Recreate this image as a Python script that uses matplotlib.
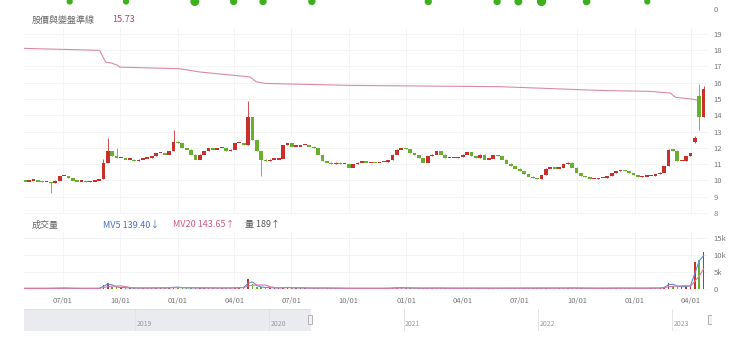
import numpy as np
import pandas as pd
import matplotlib
matplotlib.use('Agg')
import matplotlib.pyplot as plt
import matplotlib.dates as mdates
from matplotlib.patches import Rectangle

plt.rcParams['font.family'] = ['Noto Sans CJK TC', 'DejaVu Sans']

# weekly closes (from 2020-05-01)
closes = [
    9.95, 10.0, 10.0, 9.95, 9.9, 9.9, 9.85, 10.0, 10.3, 10.3,
    10.15, 10.0, 9.95, 9.95, 9.9, 9.95, 10.0, 10.05, 11.1, 11.8,
    11.5, 11.4, 11.4, 11.3, 11.3, 11.2, 11.3, 11.35, 11.4, 11.5,
    11.7, 11.7, 11.6, 11.8, 12.4, 12.3, 12.0, 11.9, 11.6, 11.3,
    11.6, 11.8, 12.0, 11.9, 12.0, 12.0, 11.8, 11.9, 12.3, 12.3,
    12.2, 13.9, 12.5, 11.8, 11.3, 11.2, 11.3, 11.3, 11.35, 12.2,
    12.3, 12.1, 12.1, 12.2, 12.2, 12.1, 12.0, 11.6, 11.2, 11.1,
    11.0, 11.1, 11.0, 11.0, 10.8, 11.0, 11.1, 11.2, 11.1, 11.15,
    11.1, 11.15, 11.15, 11.25, 11.6, 11.9, 12.0, 11.95, 11.7, 11.55,
    11.4, 11.1, 11.5, 11.6, 11.8, 11.6, 11.4, 11.4, 11.4, 11.45,
    11.6, 11.75, 11.5, 11.4, 11.6, 11.3, 11.35, 11.55, 11.5, 11.3,
    11.05, 10.9, 10.75, 10.6, 10.4, 10.25, 10.15, 10.1, 10.35, 10.75,
    10.8, 10.75, 10.8, 11.0, 11.1, 10.8, 10.45, 10.3, 10.2, 10.1,
    10.1, 10.15, 10.15, 10.3, 10.45, 10.6, 10.65, 10.6, 10.45, 10.35,
    10.2, 10.25, 10.3, 10.3, 10.4, 10.5, 10.9, 11.9, 11.85, 11.2,
    11.2, 11.5, 11.7, 12.6, 13.9, 15.6,
]
open_fix = {0: 10.0, 18: 10.1, 153: 12.4, 154: 15.2, 155: 13.9}
high_fix = {18: 11.3, 19: 12.6, 21: 12.0, 34: 13.1, 51: 14.9, 153: 12.7, 154: 15.9, 155: 15.8}
low_fix = {6: 9.2, 54: 10.3, 153: 12.3, 154: 13.1}

volume = [
    180, 200, 160, 210, 190, 170, 250, 220, 300, 260, 200, 180, 170, 190, 160, 180, 200, 220,
    1300, 1700,
    700, 500, 400, 350, 300, 280, 260, 300, 320, 280,
    300, 350, 300, 400, 600, 450, 350, 300, 350, 300,
    320, 300, 350, 300, 280, 300, 280, 320, 400, 450,
    500, 2800, 1400, 700, 500, 400, 350, 300, 300, 500,
    450, 350, 300, 300, 280, 260, 250, 300, 280, 250,
    230, 220, 200, 210, 230, 200, 220, 210, 200, 200,
    190, 200, 210, 230, 350, 400, 380, 300, 260, 240,
    230, 250, 280, 260, 300, 260, 240, 230, 220, 230,
    250, 270, 240, 230, 250, 240, 230, 240, 220, 230,
    240, 230, 250, 260, 270, 260, 250, 240, 280, 300,
    280, 260, 270, 300, 320, 280, 260, 240, 230, 220,
    210, 220, 230, 250, 260, 270, 260, 250, 240, 230,
    230, 240, 250, 260, 280, 320, 600, 1900, 900, 700,
    650, 800, 1200, 8000, 8600, 11000,
]

# 變盤準線
ref_dates = ['2020-04-30', '2020-08-29', '2020-09-04', '2020-09-08', '2020-09-17', '2020-09-27',
             '2020-09-30', '2021-01-04', '2021-02-05', '2021-03-30', '2021-04-26', '2021-05-06',
             '2021-05-20', '2021-10-03', '2022-05-31', '2022-11-07', '2023-01-26', '2023-02-27',
             '2023-03-07', '2023-03-31', '2023-04-16']
ref_values = [18.1, 17.98, 17.5, 17.25, 17.2, 17.05, 16.95, 16.85, 16.65, 16.45, 16.35, 16.05,
              15.95, 15.83, 15.75, 15.52, 15.46, 15.36, 15.1, 15.0, 14.9]

# top indicator strip dots
dot_dates = ['2020-07-12', '2020-10-10', '2021-01-28', '2021-03-31', '2021-05-17', '2021-08-03',
             '2022-02-05', '2022-05-26', '2022-06-29', '2022-08-05', '2022-10-16', '2023-01-21']
dot_sizes = [12, 12, 30, 18, 18, 18, 18, 18, 22, 32, 20, 12]

price_ticks = list(range(8, 20))
vol_ticks = [0, 5000, 10000, 15000]
vol_labels = ['0', '5k', '10k', '15k']
years = [2019, 2020, 2021, 2022, 2023]

W, H = 740, 348
UP, DOWN = '#c8302c', '#66b02e'
GRID = '#f2f2f2'
LBL = '#777777'


def rect(l, t, r, b):
    return [l / W, 1 - b / H, (r - l) / W, (b - t) / H]


dates = pd.date_range('2020-05-01', periods=len(closes), freq='7D')
closes = np.array(closes)
opens = np.concatenate([[closes[0]], closes[:-1]])
for k, v in open_fix.items():
    opens[k] = v
highs = np.maximum(opens, closes)
lows = np.minimum(opens, closes)
for k, v in high_fix.items():
    highs[k] = v
for k, v in low_fix.items():
    lows[k] = v
colors = [UP if c >= o else DOWN for o, c in zip(opens, closes)]

xmin, xmax = pd.Timestamp('2020-04-30'), pd.Timestamp('2023-04-28')

fig = plt.figure(figsize=(7.4, 3.48), dpi=100)

# top strip
ax_top = fig.add_axes(rect(24, -1, 708, 9))
ax_top.scatter(pd.to_datetime(dot_dates), [0.75] * len(dot_dates), s=dot_sizes,
               color='#3cb01c', zorder=3, clip_on=False)
ax_top.set_xlim(xmin, xmax)
ax_top.set_ylim(0, 1)
ax_top.axhline(0, color=GRID, lw=0.6)

# price panel
ax = fig.add_axes(rect(24, 28, 708, 214))
body = np.maximum(np.abs(closes - opens), 0.08)
ax.vlines(dates, lows, highs, colors=colors, lw=0.6, zorder=2)
ax.bar(dates, body, bottom=np.minimum(opens, closes) - 0.02, width=6, color=colors, zorder=3)
ax.plot(pd.to_datetime(ref_dates), ref_values, color='#d98ba2', lw=0.8, zorder=2)
ax.set_ylim(7.94, 19.35)
ax.set_yticks(price_ticks)

# volume panel
ax_v = fig.add_axes(rect(24, 232, 708, 290))
vs = pd.Series(volume, dtype=float)
ax_v.bar(dates, volume, width=2.5, color=colors, zorder=2)
ax_v.plot(dates, vs.rolling(2, min_periods=1).mean(), color='#5b8fd9', lw=0.8, zorder=3)
ax_v.plot(dates, vs.rolling(5, min_periods=1).mean(), color='#e07a9a', lw=0.8, zorder=3)
ax_v.set_ylim(-294, 16760)
ax_v.set_yticks(vol_ticks)
ax_v.set_yticklabels(vol_labels)

qticks = pd.date_range('2020-07-01', '2023-04-01', freq='QS')
for a in (ax_top, ax, ax_v):
    a.set_xlim(xmin, xmax)
    for s in a.spines.values():
        s.set_visible(False)
    a.yaxis.tick_right()
    a.tick_params(axis='y', length=0, labelsize=5.5, labelcolor=LBL, pad=4)
    a.set_xticks(qticks)
    a.tick_params(axis='x', length=0, labelbottom=False)
    a.grid(True, color=GRID, lw=0.6)
    a.set_axisbelow(True)
ax_top.set_yticks([0])
ax_top.grid(False)
ax_top.set_xticks([])
ax_v.tick_params(axis='x', labelbottom=True, labelsize=5.5, labelcolor=LBL, pad=5)
ax_v.xaxis.set_major_formatter(mdates.DateFormatter('%m/%d'))

# headers
fig.text(32 / W, 1 - 20 / H, '股價與變盤準線', fontsize=6.5, color='#666666', va='center')
fig.text(112 / W, 1 - 20 / H, '15.73', fontsize=6.5, color='#b5436e', va='center')
fig.text(32 / W, 1 - 225 / H, '成交量', fontsize=6.5, color='#666666', va='center')
fig.text(103 / W, 1 - 225 / H, 'MV5 139.40↓', fontsize=6.5, color='#4472c4', va='center')
fig.text(173 / W, 1 - 225 / H, 'MV20 143.65↑', fontsize=6.5, color='#d05a80', va='center')
fig.text(245 / W, 1 - 225 / H, '量 189↑', fontsize=6.5, color='#555555', va='center')

# navigator
ax_n = fig.add_axes(rect(24, 309, 712, 331))
nav_lo, nav_hi = pd.Timestamp('2018-03-05'), pd.Timestamp('2023-04-20')
sel_lo, sel_hi = pd.Timestamp('2020-04-21'), pd.Timestamp('2023-04-16')
ax_n.set_xlim(nav_lo, nav_hi)
ax_n.set_ylim(0, 1)
ax_n.axvspan(nav_lo, sel_lo, color='#e9ebee', zorder=0)
ax_n.plot([nav_lo, sel_lo], [1, 1], color='#dddddd', lw=0.6)
ax_n.plot([sel_lo, sel_hi], [0, 0], color='#cccccc', lw=0.8)
for y in years:
    d = pd.Timestamp(f'{y}-01-01')
    ax_n.axvline(d, color='#e0e0e0', lw=0.6, zorder=1)
    ax_n.text(d + pd.Timedelta(days=4), 0.15, str(y), fontsize=5, color='#999999',
              va='bottom', ha='left')
for d in (sel_lo, sel_hi):
    ax_n.add_patch(Rectangle((d - pd.Timedelta(days=6), 0.3), pd.Timedelta(days=12), 0.45,
                             facecolor='#f2f2f2', edgecolor='#aaaaaa', lw=0.6, zorder=4))
ax_n.set_xticks([])
ax_n.set_yticks([])
for s in ax_n.spines.values():
    s.set_visible(False)

fig.savefig('out.png', dpi=100)
